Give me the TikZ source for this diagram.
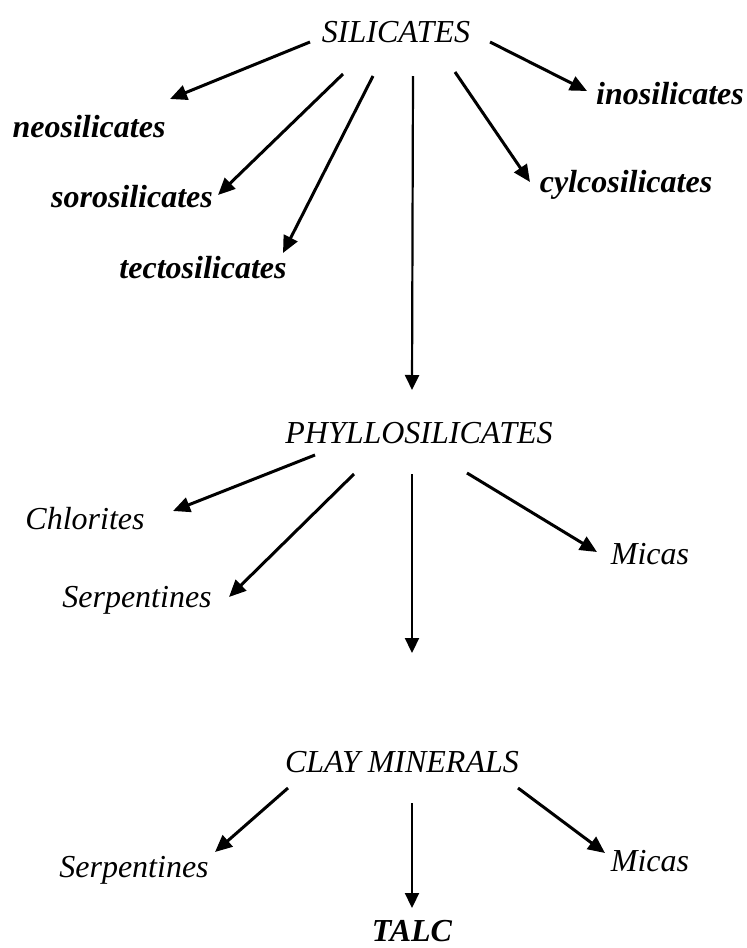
\documentclass[tikz,border=0pt]{standalone}
\usepackage{fontspec}
\setmainfont{Liberation Serif}
\usetikzlibrary{arrows.meta}

\tikzset{
  lbl/.style={anchor=base, inner sep=0pt, font=\fontsize{32}{36}\selectfont\itshape},
  kind/.style={lbl, font=\fontsize{32}{36}\selectfont\bfseries\itshape},
  link/.style={line width=3pt, -{Triangle[length=17pt,width=15pt]}},
  down/.style={line width=2.2pt, -{Triangle[length=15pt,width=14pt]}}
}

\begin{document}
\begin{tikzpicture}[x=1pt, y=-1pt]
			%%%%% FRAME %%%%%
			\useasboundingbox (0, 0) rectangle (747, 948);
			
			%%%%% TEXTS %%%%%
			\node[lbl] (sil) at (396, 42) {SILICATES};
			\node[kind] (neo) at (89, 137) {neosilicates};
			\node[kind] (soro) at (132, 207) {sorosilicates};
			\node[kind] (tecto) at (203, 278) {tectosilicates};
			\node[kind] (cyclo) at (626, 192) {cylcosilicates};
			\node[kind] (ino) at (670, 104) {inosilicates};
			
			\node[lbl] (phyl) at (419, 443) {PHYLLOSILICATES};
			\node[lbl] (chl) at (85, 529) {Chlorites};
			\node[lbl] (serpA) at (137, 607) {Serpentines};
			\node[lbl] (micaA) at (650, 564) {Micas};
			
			\node[lbl] (clay) at (402, 772) {CLAY MINERALS};
			\node[lbl] (serpB) at (134, 877) {Serpentines};
			\node[lbl] (micaB) at (650, 871) {Micas};
			\node[kind] (talc) at (412, 941) {TALC};
			
			%%%%% ARROWS %%%%%
			\draw[link] ([shift={(-86, 0)}]sil.base) -- ([shift={(81, -38)}]neo.base);
			\draw[link] ([shift={(-53, 32)}]sil.base) -- ([shift={(86, -12)}]soro.base);
			\draw[link] ([shift={(-23, 34)}]sil.base) -- ([shift={(80, -25)}]tecto.base);
			\draw[down] ([shift={(17, 34)}]sil.base) -- ([shift={(-7, -53)}]phyl.base);
			\draw[link] ([shift={(59, 30)}]sil.base) -- ([shift={(-96, -10)}]cyclo.base);
			\draw[link] ([shift={(94, 0)}]sil.base) -- ([shift={(-83, -13)}]ino.base);
			
			\draw[link] ([shift={(-104, 12)}]phyl.base) -- ([shift={(88, -18)}]chl.base);
			\draw[link] ([shift={(-65, 31)}]phyl.base) -- ([shift={(92, -10)}]serpA.base);
			\draw[down] ([shift={(-7, 31)}]phyl.base) -- ([shift={(10, -119)}]clay.base);
			\draw[link] ([shift={(48, 30)}]phyl.base) -- ([shift={(-53, -12)}]micaA.base);
			
			\draw[link] ([shift={(-114, 16)}]clay.base) -- ([shift={(81, -25)}]serpB.base);
			\draw[down] ([shift={(10, 31)}]clay.base) -- ([shift={(0, -33)}]talc.base);
			\draw[link] ([shift={(116, 16)}]clay.base) -- ([shift={(-45, -18)}]micaB.base);
			
			%%%%% END %%%%%
\end{tikzpicture}
\end{document}
